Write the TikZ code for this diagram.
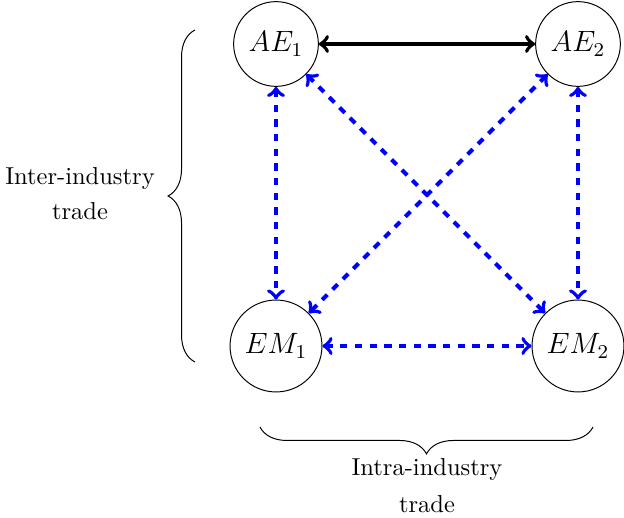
\documentclass[tikz,border=0pt]{standalone}
\usetikzlibrary{decorations.pathreplacing}
\begin{document}
\begin{tikzpicture}[x=0.4082pt,y=0.4082pt,
  country/.style={draw,circle,inner sep=3.8pt,font=\large},
  trade/.style={<->,ultra thick,blue,dashed},
  mainlink/.style={<->,ultra thick,black},
  bracestyle/.style={decorate,decoration={brace,amplitude=11pt}},
  label/.style={align=center}]
\useasboundingbox (0,0) rectangle (624,518);
\node[country] (AE1) at (276,474) {$AE_1$};
\node[country] (AE2) at (578,474) {$AE_2$};
\node[country] (EM1) at (276,172) {$EM_1$};
\node[country] (EM2) at (578,172) {$EM_2$};
\draw[mainlink] (AE1) -- (AE2);
\draw[trade] (AE1) -- (EM1);
\draw[trade] (AE2) -- (EM2);
\draw[trade] (AE1) -- (EM2);
\draw[trade] (AE2) -- (EM1);
\draw[trade] (EM1) -- (EM2);
\coordinate (lb1) at (195,156);
\coordinate (lb2) at (195,488);
\coordinate (bb1) at (593,91);
\coordinate (bb2) at (260,91);
\draw[bracestyle] (lb1) -- (lb2);
\draw[bracestyle] (bb1) -- (bb2);
\node[label] (inter) at (80,324) {Inter-industry\\[2.3pt]trade};
\node[label] (intra) at (427,32) {Intra-industry\\[3.1pt]trade};
\end{tikzpicture}
\end{document}
